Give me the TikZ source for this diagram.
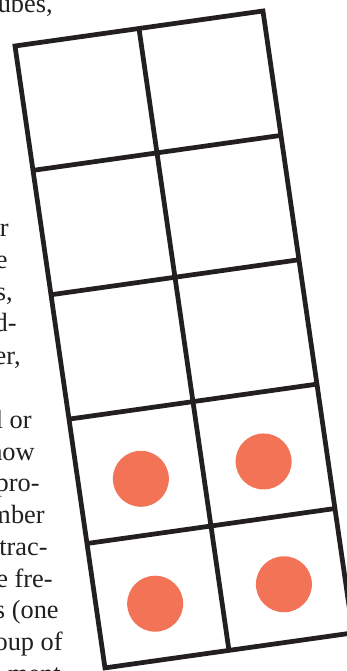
\documentclass[tikz,border=0pt]{standalone}
\usepackage{fontspec}
\setmainfont{Liberation Serif}
\usepackage{tikz}
\definecolor{ink}{HTML}{231F20}
\definecolor{dotred}{HTML}{F27356}

\begin{document}
\begin{tikzpicture}[x=0.02cm,y=-0.02cm,
  txt/.style={anchor=base east,inner sep=0pt,text=ink,font=\fontsize{15}{18}\selectfont}]
\useasboundingbox (0,0) rectangle (347,671);
\clip (0,0) rectangle (347,671);
% page text running down beside the box
\node[txt] (t1) at (53,13) {ubes,};
\node[txt] (t2) at (9,237) {r};
\node[txt] (t3) at (8,269) {e};
\node[txt] (t4) at (13,301) {s,};
\node[txt] (t5) at (17,332) {d-};
\node[txt] (t6) at (21,364) {er,};
\node[txt] (t7) at (32,428) {l or};
\node[txt] (t8) at (35,460) {how};
\node[txt] (t9) at (40,491) {pro-};
\node[txt] (t10) at (45,523) {mber};
\node[txt] (t11) at (48,555) {trac-};
\node[txt] (t12) at (53,587) {e fre-};
\node[txt] (t13) at (59,618) {s (one};
\node[txt] (t14) at (63,650) {oup of};
\node[txt] (t15) at (61,682) {ment};
% the tilted 2 by 5 box
\begin{scope}[shift={(15,46)},x={(2.48cm,0.35cm)},y={(0.36cm,-2.488cm)},
  line width=2.7pt,draw=ink]
\draw (0,0) -- (2,0) -- (2,5) -- (0,5) -- cycle;
\draw (1,0) -- (1,5);
\draw (0,1) -- (2,1);
\draw (0,2) -- (2,2);
\draw (0,3) -- (2,3);
\draw (0,4) -- (2,4);
\fill[dotred] (0.5,3.55) circle(0.56cm);
\fill[dotred] (1.49,3.55) circle(0.56cm);
\fill[dotred] (0.47,4.55) circle(0.56cm);
\fill[dotred] (1.51,4.54) circle(0.56cm);
\end{scope}
\end{tikzpicture}
\end{document}
